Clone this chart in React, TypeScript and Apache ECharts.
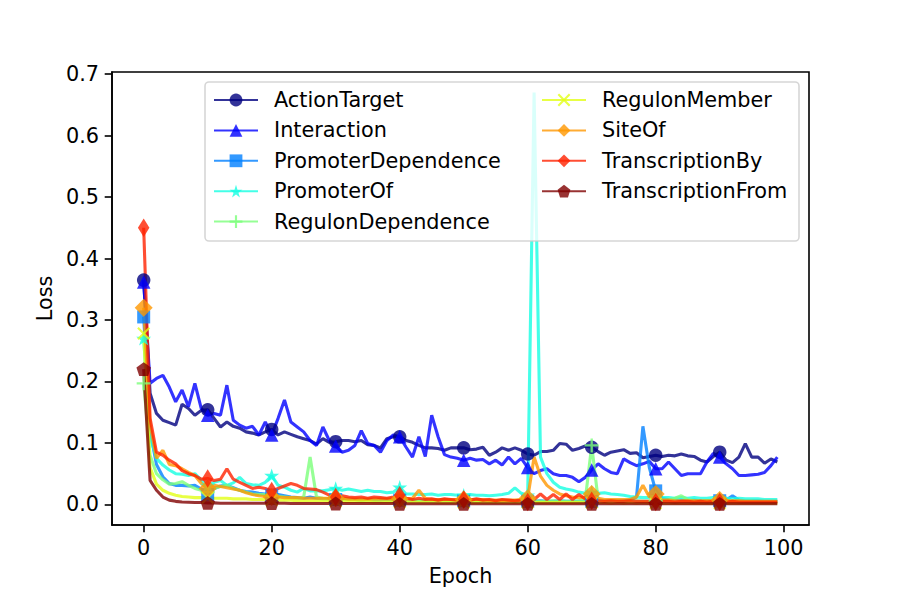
import React, { useEffect, useRef } from "react";
import * as echarts from "echarts";

const seriesNames = [
  "ActionTarget", "Interaction", "PromoterDependence", "PromoterOf", "RegulonDependence",
  "RegulonMember", "SiteOf", "TranscriptionBy", "TranscriptionFrom",
];

const actionTarget = [
  0.365, 0.181, 0.148, 0.137, 0.133, 0.129, 0.163, 0.156, 0.145, 0.153,
  0.154, 0.140, 0.126, 0.134, 0.127, 0.124, 0.118, 0.116, 0.113, 0.118,
  0.122, 0.113, 0.118, 0.114, 0.110, 0.107, 0.104, 0.098, 0.107, 0.101,
  0.102, 0.104, 0.104, 0.102, 0.104, 0.097, 0.096, 0.092, 0.107, 0.110,
  0.110, 0.104, 0.101, 0.096, 0.092, 0.092, 0.091, 0.088, 0.092, 0.092,
  0.092, 0.089, 0.090, 0.093, 0.080, 0.085, 0.092, 0.088, 0.092, 0.088,
  0.082, 0.080, 0.086, 0.086, 0.088, 0.099, 0.098, 0.088, 0.091, 0.095,
  0.093, 0.086, 0.080, 0.085, 0.087, 0.089, 0.083, 0.084, 0.076, 0.078,
  0.080, 0.078, 0.080, 0.079, 0.082, 0.079, 0.078, 0.072, 0.069, 0.078,
  0.085, 0.072, 0.068, 0.077, 0.099, 0.077, 0.077, 0.067, 0.074, 0.069,
];
const interaction = [
  0.362, 0.197, 0.205, 0.210, 0.191, 0.167, 0.186, 0.159, 0.197, 0.156,
  0.145, 0.148, 0.145, 0.194, 0.137, 0.129, 0.124, 0.127, 0.113, 0.134,
  0.113, 0.140, 0.170, 0.134, 0.126, 0.118, 0.104, 0.096, 0.126, 0.104,
  0.095, 0.085, 0.088, 0.096, 0.120, 0.099, 0.096, 0.085, 0.104, 0.113,
  0.110, 0.093, 0.077, 0.110, 0.078, 0.145, 0.110, 0.081, 0.077, 0.075,
  0.072, 0.075, 0.072, 0.073, 0.066, 0.072, 0.064, 0.077, 0.066, 0.075,
  0.060, 0.050, 0.055, 0.058, 0.050, 0.047, 0.047, 0.044, 0.037, 0.044,
  0.056, 0.066, 0.058, 0.052, 0.050, 0.074, 0.068, 0.063, 0.066, 0.070,
  0.058, 0.058, 0.069, 0.058, 0.047, 0.050, 0.050, 0.050, 0.069, 0.083,
  0.077, 0.066, 0.058, 0.047, 0.047, 0.048, 0.049, 0.052, 0.063, 0.077,
];
const promoterDependence = [
  0.305, 0.120, 0.065, 0.045, 0.034, 0.031, 0.031, 0.030, 0.031, 0.025,
  0.016, 0.026, 0.030, 0.031, 0.027, 0.023, 0.021, 0.020, 0.018, 0.017,
  0.015, 0.016, 0.014, 0.012, 0.011, 0.010, 0.012, 0.010, 0.009, 0.009,
  0.008, 0.009, 0.008, 0.008, 0.007, 0.008, 0.007, 0.007, 0.008, 0.007,
  0.007, 0.006, 0.007, 0.006, 0.007, 0.006, 0.006, 0.007, 0.006, 0.006,
  0.006, 0.005, 0.006, 0.006, 0.005, 0.006, 0.005, 0.006, 0.005, 0.006,
  0.005, 0.005, 0.006, 0.005, 0.005, 0.006, 0.005, 0.005, 0.005, 0.005,
  0.005, 0.005, 0.005, 0.005, 0.005, 0.006, 0.007, 0.012, 0.127, 0.060,
  0.022, 0.010, 0.008, 0.007, 0.007, 0.006, 0.007, 0.006, 0.006, 0.006,
  0.006, 0.007, 0.014, 0.007, 0.006, 0.006, 0.006, 0.005, 0.005, 0.005,
];
const promoterOf = [
  0.270, 0.110, 0.075, 0.064, 0.056, 0.050, 0.049, 0.047, 0.050, 0.039,
  0.031, 0.036, 0.039, 0.031, 0.035, 0.044, 0.034, 0.032, 0.031, 0.036,
  0.047, 0.031, 0.028, 0.023, 0.020, 0.026, 0.022, 0.022, 0.022, 0.024,
  0.026, 0.023, 0.025, 0.023, 0.021, 0.023, 0.021, 0.021, 0.019, 0.020,
  0.028, 0.017, 0.017, 0.016, 0.016, 0.017, 0.015, 0.016, 0.016, 0.015,
  0.015, 0.016, 0.015, 0.015, 0.014, 0.015, 0.016, 0.018, 0.027, 0.018,
  0.015, 0.670, 0.077, 0.050, 0.036, 0.028, 0.025, 0.023, 0.020, 0.018,
  0.020, 0.018, 0.019, 0.017, 0.016, 0.015, 0.013, 0.012, 0.011, 0.011,
  0.012, 0.011, 0.011, 0.010, 0.011, 0.010, 0.011, 0.010, 0.010, 0.011,
  0.010, 0.010, 0.009, 0.010, 0.009, 0.009, 0.009, 0.008, 0.008, 0.008,
];
const regulonDependence = [
  0.197, 0.080, 0.050, 0.040, 0.033, 0.034, 0.037, 0.031, 0.026, 0.023,
  0.020, 0.026, 0.029, 0.031, 0.026, 0.023, 0.020, 0.017, 0.016, 0.016,
  0.014, 0.013, 0.012, 0.011, 0.010, 0.012, 0.077, 0.012, 0.010, 0.009,
  0.009, 0.008, 0.009, 0.008, 0.007, 0.008, 0.007, 0.008, 0.007, 0.007,
  0.008, 0.007, 0.006, 0.007, 0.006, 0.006, 0.007, 0.006, 0.006, 0.006,
  0.006, 0.006, 0.005, 0.006, 0.005, 0.006, 0.005, 0.006, 0.005, 0.006,
  0.008, 0.006, 0.005, 0.005, 0.006, 0.005, 0.005, 0.005, 0.006, 0.008,
  0.096, 0.008, 0.006, 0.005, 0.006, 0.005, 0.005, 0.006, 0.005, 0.005,
  0.006, 0.006, 0.007, 0.010, 0.014, 0.008, 0.006, 0.005, 0.006, 0.005,
  0.005, 0.006, 0.005, 0.005, 0.005, 0.005, 0.004, 0.004, 0.004, 0.004,
];
const regulonMember = [
  0.278, 0.060, 0.033, 0.023, 0.018, 0.015, 0.013, 0.012, 0.011, 0.011,
  0.011, 0.010, 0.010, 0.010, 0.009, 0.009, 0.009, 0.008, 0.008, 0.008,
  0.007, 0.007, 0.007, 0.007, 0.006, 0.006, 0.006, 0.006, 0.006, 0.005,
  0.005, 0.005, 0.005, 0.005, 0.005, 0.005, 0.004, 0.004, 0.004, 0.004,
  0.004, 0.004, 0.004, 0.004, 0.004, 0.004, 0.003, 0.003, 0.003, 0.003,
  0.003, 0.003, 0.003, 0.003, 0.003, 0.003, 0.003, 0.003, 0.003, 0.003,
  0.003, 0.003, 0.003, 0.003, 0.003, 0.003, 0.003, 0.003, 0.003, 0.003,
  0.003, 0.003, 0.003, 0.002, 0.003, 0.002, 0.003, 0.002, 0.003, 0.002,
  0.002, 0.002, 0.002, 0.002, 0.002, 0.002, 0.002, 0.002, 0.002, 0.002,
  0.002, 0.002, 0.002, 0.002, 0.002, 0.002, 0.002, 0.002, 0.002, 0.002,
];
const siteOf = [
  0.320, 0.130, 0.075, 0.088, 0.065, 0.063, 0.058, 0.052, 0.047, 0.034,
  0.026, 0.031, 0.029, 0.027, 0.025, 0.023, 0.019, 0.016, 0.014, 0.013,
  0.012, 0.012, 0.011, 0.011, 0.011, 0.010, 0.010, 0.010, 0.010, 0.010,
  0.010, 0.010, 0.009, 0.009, 0.009, 0.009, 0.009, 0.009, 0.009, 0.009,
  0.009, 0.009, 0.010, 0.023, 0.010, 0.008, 0.008, 0.008, 0.008, 0.008,
  0.008, 0.008, 0.008, 0.008, 0.007, 0.007, 0.007, 0.007, 0.007, 0.008,
  0.010, 0.077, 0.046, 0.031, 0.023, 0.017, 0.014, 0.012, 0.011, 0.012,
  0.017, 0.010, 0.008, 0.008, 0.008, 0.008, 0.008, 0.012, 0.031, 0.012,
  0.017, 0.007, 0.007, 0.006, 0.006, 0.006, 0.006, 0.006, 0.006, 0.006,
  0.007, 0.006, 0.006, 0.006, 0.005, 0.005, 0.005, 0.005, 0.005, 0.005,
];
const transcriptionBy = [
  0.450, 0.140, 0.085, 0.080, 0.072, 0.066, 0.055, 0.050, 0.047, 0.041,
  0.042, 0.039, 0.041, 0.058, 0.041, 0.036, 0.031, 0.026, 0.028, 0.026,
  0.022, 0.026, 0.030, 0.034, 0.031, 0.026, 0.025, 0.024, 0.020, 0.015,
  0.012, 0.014, 0.012, 0.011, 0.012, 0.010, 0.012, 0.011, 0.010, 0.012,
  0.015, 0.010, 0.008, 0.010, 0.008, 0.009, 0.007, 0.009, 0.008, 0.007,
  0.008, 0.007, 0.009, 0.007, 0.008, 0.006, 0.008, 0.007, 0.006, 0.007,
  0.004, 0.008, 0.017, 0.008, 0.016, 0.008, 0.017, 0.008, 0.016, 0.009,
  0.006, 0.006, 0.005, 0.006, 0.005, 0.005, 0.006, 0.005, 0.005, 0.005,
  0.004, 0.005, 0.005, 0.004, 0.005, 0.005, 0.004, 0.005, 0.004, 0.005,
  0.004, 0.004, 0.005, 0.004, 0.004, 0.004, 0.004, 0.004, 0.004, 0.004,
];
const transcriptionFrom = [
  0.220, 0.039, 0.023, 0.012, 0.007, 0.005, 0.004, 0.0035, 0.003, 0.003,
  0.0025, 0.0025, 0.002, 0.002, 0.002, 0.002, 0.002, 0.002, 0.002, 0.002,
  0.002, 0.002, 0.002, 0.0015, 0.0015, 0.0015, 0.0015, 0.0015, 0.0015, 0.0015,
  0.0015, 0.0015, 0.0015, 0.0015, 0.0015, 0.0015, 0.0015, 0.0015, 0.0015, 0.0015,
  0.001, 0.001, 0.001, 0.001, 0.001, 0.001, 0.001, 0.001, 0.001, 0.001,
  0.001, 0.001, 0.001, 0.001, 0.001, 0.001, 0.001, 0.001, 0.001, 0.001,
  0.001, 0.001, 0.001, 0.001, 0.001, 0.001, 0.001, 0.001, 0.001, 0.001,
  0.001, 0.001, 0.001, 0.001, 0.001, 0.001, 0.001, 0.001, 0.001, 0.001,
  0.001, 0.001, 0.001, 0.001, 0.001, 0.001, 0.001, 0.001, 0.001, 0.001,
  0.001, 0.001, 0.001, 0.001, 0.001, 0.001, 0.001, 0.001, 0.001, 0.001,
];

const seriesValues = [
  actionTarget, interaction, promoterDependence, promoterOf, regulonDependence,
  regulonMember, siteOf, transcriptionBy, transcriptionFrom,
];

const xTicks = [0, 20, 40, 60, 80, 100];
const yTicks = [0.0, 0.1, 0.2, 0.3, 0.4, 0.5, 0.6, 0.7];

// jet colormap samples
const colors = [
  "#000080", "#0000ff", "#0080ff", "#15ffe2", "#7cff7a",
  "#e2ff15", "#ff9700", "#ff2200", "#800000",
];

const STAR = "path://M0,-1 L0.2245,-0.309 L0.9511,-0.309 L0.3633,0.118 L0.5878,0.809 L0,0.382 L-0.5878,0.809 L-0.3633,0.118 L-0.9511,-0.309 L-0.2245,-0.309 Z";
const PLUS = "path://M5,0 H7 V5 H12 V7 H7 V12 H5 V7 H0 V5 H5 Z";
const CROSS = "path://M0,1.4 L1.4,0 L6,4.6 L10.6,0 L12,1.4 L7.4,6 L12,10.6 L10.6,12 L6,7.4 L1.4,12 L0,10.6 L4.6,6 Z";
const THIN_DIAMOND = "path://M0,-1 L0.6,0 L0,1 L-0.6,0 Z";
const PENTAGON = "path://M0,-1 L0.951,-0.309 L0.588,0.809 L-0.588,0.809 L-0.951,-0.309 Z";

const markerStyles: { symbol: string; size: number | number[]; keep: boolean }[] = [
  { symbol: "circle", size: 13.5, keep: false },
  { symbol: "triangle", size: 13.5, keep: false },
  { symbol: "rect", size: 13, keep: false },
  { symbol: STAR, size: 15, keep: true },
  { symbol: PLUS, size: 14, keep: true },
  { symbol: CROSS, size: 13, keep: true },
  { symbol: "diamond", size: 18, keep: false },
  { symbol: THIN_DIAMOND, size: [11.5, 18.5], keep: false },
  { symbol: PENTAGON, size: 14.5, keep: true },
];

const FONT = "DejaVu Sans";

export default function App() {
  const ref = useRef<HTMLDivElement>(null);

  useEffect(() => {
    if (!ref.current) return;
    const chart = echarts.init(ref.current, null, { renderer: "svg" });

    const series = seriesNames.map((name, i) => ({
      name,
      type: "line",
      data: seriesValues[i].map((v, idx) => [idx, v]),
      symbol: markerStyles[i].symbol,
      symbolKeepAspect: markerStyles[i].keep,
      symbolSize: (_v: any, p: any) => (p.dataIndex % 10 === 0 ? markerStyles[i].size : 0),
      showAllSymbol: true,
      color: colors[i],
      lineStyle: { width: 3.1, color: colors[i], opacity: 0.8 },
      itemStyle: { color: colors[i], opacity: 0.8 },
      emphasis: { disabled: true },
      z: 2,
    }));

    const legendCommon = {
      orient: "vertical",
      padding: 0,
      itemWidth: 44,
      itemHeight: 16,
      itemGap: 8.4,
      selectedMode: false,
      textStyle: {
        fontFamily: FONT,
        fontSize: 20.8,
        color: "#000",
        lineHeight: 22,
        padding: [0, 0, 0, 11],
      },
      z: 6,
    };

    chart.setOption({
      animation: false,
      backgroundColor: "#fff",
      textStyle: { fontFamily: FONT },
      grid: {
        left: 112,
        top: 72,
        right: 91,
        bottom: 75,
        show: true,
        borderColor: "#000",
        borderWidth: 1.6,
        backgroundColor: "transparent",
      },
      xAxis: {
        type: "value",
        min: -4.95,
        max: 103.95,
        name: "Epoch",
        nameLocation: "middle",
        nameGap: 40,
        nameTextStyle: { fontFamily: FONT, fontSize: 20.8, color: "#000" },
        axisLine: { onZero: false, lineStyle: { color: "#000", width: 1.6 } },
        axisTick: { show: true, length: 7.3, lineStyle: { color: "#000", width: 1.6 }, customValues: xTicks },
        axisLabel: {
          fontFamily: FONT,
          fontSize: 20.8,
          color: "#000",
          margin: 12,
          customValues: xTicks,
          formatter: (v: number) => String(Math.round(v)),
        },
        splitLine: { show: false },
      },
      yAxis: {
        type: "value",
        min: -0.0335,
        max: 0.7035,
        name: "Loss",
        nameLocation: "middle",
        nameGap: 57,
        nameTextStyle: { fontFamily: FONT, fontSize: 20.8, color: "#000" },
        axisLine: { onZero: false, lineStyle: { color: "#000", width: 1.6 } },
        axisTick: { show: true, length: 7.3, lineStyle: { color: "#000", width: 1.6 }, customValues: yTicks },
        axisLabel: {
          fontFamily: FONT,
          fontSize: 20.8,
          color: "#000",
          margin: 13,
          customValues: yTicks,
          formatter: (v: number) => v.toFixed(1),
        },
        splitLine: { show: false },
      },
      legend: [
        { ...legendCommon, left: 213, top: 89, data: seriesNames.slice(0, 5) },
        { ...legendCommon, left: 541, top: 89, data: seriesNames.slice(5) },
      ],
      graphic: [
        {
          type: "rect",
          z: 5,
          shape: { x: 205, y: 82, width: 594, height: 159, r: 4 },
          style: { fill: "rgba(255,255,255,0.8)", stroke: "rgba(204,204,204,0.8)", lineWidth: 1.6 },
          silent: true,
        },
      ],
      series,
    });

    return () => chart.dispose();
  }, []);

  return <div ref={ref} style={{ width: 900, height: 600, margin: -8 }} />;
}
